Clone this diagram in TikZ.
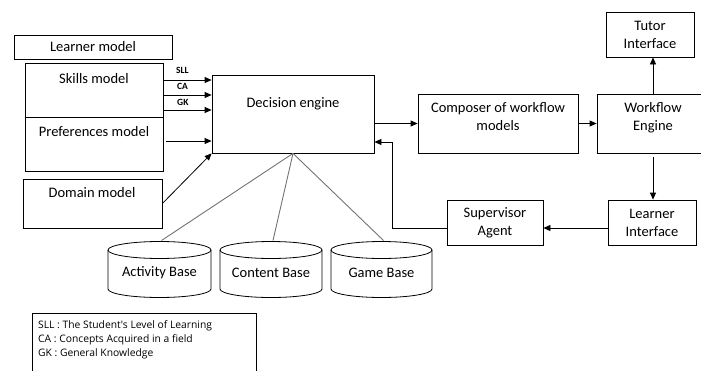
\documentclass[tikz,border=0pt]{standalone}
\usepackage{fontspec}
\setmainfont{Carlito}
\newfontfamily\legendfont{Open Sans}
\usetikzlibrary{arrows.meta,calc}
\begin{document}
\begin{tikzpicture}[x=1pt,y=-1pt,
  box/.style={draw,line width=0.8pt,inner sep=0pt},
  txt/.style={font=\fontsize{14.5}{18}\selectfont,align=center,inner sep=0pt},
  lbl/.style={font=\fontsize{9.5}{10}\selectfont\bfseries,inner sep=0pt,anchor=west},
  arr/.style={-{Triangle[length=7pt,width=6pt]},line width=0.8pt},
  gline/.style={draw=black!55,line width=0.9pt},
  cyl/.style={draw,line width=0.8pt,fill=white}]
\useasboundingbox (0,0) rectangle (701,370);
% left models
\node[box,minimum width=158pt,minimum height=24pt] (lm) at (93,47) {};
\node[txt] (lmt) at (93,47) {Learner model};
\node[box,minimum width=138pt,minimum height=108pt] (sp) at (94,117.5) {};
\draw[line width=0.8pt] (sp.west) -- (sp.east);
\node[txt] (skt) at (94,79) {Skills model};
\node[txt] (prt) at (94,132) {Preferences model};
\node[box,minimum width=139pt,minimum height=49pt] (dm) at (92.5,203.5) {};
\node[txt] (dmt) at (92,193) {Domain model};
% decision engine
\node[box,minimum width=162pt,minimum height=78pt] (de) at (293,114) {};
\node[txt] (det) at (293,104) {Decision engine};
% arrows into DE
\draw[arr] (sp.east |- 0,80) -- (de.west |- 0,80);
\draw[arr] (sp.east |- 0,95) -- (de.west |- 0,95);
\draw[arr] (sp.east |- 0,110) -- (de.west |- 0,110);
\draw[arr] ($(sp.east |- 0,141)+(2.5,0)$) -- (de.west |- 0,141);
\node[lbl] (sll) at (176,70) {SLL};
\node[lbl] (ca) at (177,86.5) {CA};
\node[lbl] (gk) at (177,102.5) {GK};
\draw[arr] (dm.east) -- (de.south west);
% cylinders
\foreach \n/\cx/\rx/\t in {ab/159.5/51.5/Activity Base, cb/271/51/Content Base, gb/381.5/50.5/Game Base}{
  \draw[cyl] (\cx-\rx,250) -- (\cx-\rx,289) arc[start angle=180,end angle=0,x radius=\rx,y radius=8.5]
     -- (\cx+\rx,250) arc[start angle=0,end angle=-180,x radius=\rx,y radius=8.5] -- cycle;
  \draw[line width=0.8pt] (\cx-\rx,250) arc[start angle=180,end angle=0,x radius=\rx,y radius=8.5];
  \coordinate (\n) at (\cx+2,240.5);
  \node[txt] (\n t) at (\cx,273) {\t};
}
\draw[gline] (de.south) -- (ab);
\draw[gline] (de.south) -- (cb);
\draw[gline] (de.south) -- (gb);
% right part
\node[box,minimum width=160pt,minimum height=59pt] (cp) at (498,123.5) {};
\node[txt] (cpt) at (498,117) {Composer of workflow\\models};
\node[box,minimum width=112pt,minimum height=59pt] (we) at (653,123.5) {};
\node[txt] (wet) at (653,117.5) {Workflow\\Engine};
\node[box,minimum width=88pt,minimum height=45pt] (ti) at (650,34.5) {};
\node[txt] (tit) at (650,34.5) {Tutor\\Interface};
\node[box,minimum width=88pt,minimum height=45pt] (li) at (652,222.5) {};
\node[txt] (lit) at (652,223) {Learner\\Interface};
\node[box,minimum width=96pt,minimum height=45pt] (sa) at (495,222.5) {};
\node[txt] (sat) at (495,222.5) {Supervisor\\Agent};
\draw[arr] (de.east |- cp.west) -- (cp.west);
\draw[arr] (cp.east) -- (we.west);
\draw[arr] (we.north) -- (we.north |- ti.south);
\draw[arr,shorten <=4pt] (we.south) -- (we.south |- li.north);
\draw[arr] (li.west |- 0,228) -- (sa.east |- 0,228);
\coordinate (c1) at (392,142);
\draw[arr] (sa.west |- 0,228) -| (c1) -- (de.east |- c1);
% legend
\node[box,minimum width=224pt,minimum height=80pt,anchor=north west] (lg) at (32,313) {};
\node[font=\legendfont\fontsize{10.3}{14}\selectfont,align=left,anchor=north west,inner sep=0pt] (lgt) at (38,320.5)
 {SLL : The Student's Level of Learning\\CA : Concepts Acquired in a field\\GK : General Knowledge};
\end{tikzpicture}
\end{document}
